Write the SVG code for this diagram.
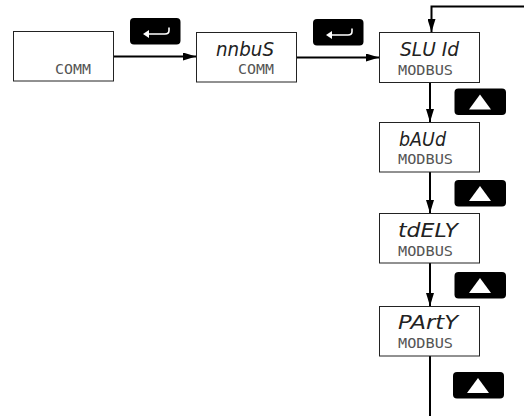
<svg xmlns="http://www.w3.org/2000/svg" width="524" height="416" viewBox="0 0 524 416">
<style>
.box{fill:#fff;stroke:#222;stroke-width:1}
.btn{fill:#000}
.sym{fill:#fff}
.ret{fill:none;stroke:#fff;stroke-width:1.6}
.big{font-family:"DejaVu Sans",sans-serif;font-weight:200;font-style:italic;font-size:20px;fill:#222}
.small{font-family:"DejaVu Sans Mono",monospace;font-weight:200;font-size:14px;fill:#555}
.con{fill:none;stroke:#000;stroke-width:2}
</style>
<defs>
<marker id="arr" markerUnits="userSpaceOnUse" markerWidth="13" markerHeight="8" refX="13" refY="4" orient="auto"><path d="M0 0L13 4L0 8z" fill="#000"/></marker>
</defs>
<g id="connectors">
<path class="con" marker-end="url(#arr)" d="M113 56.500H196"/>
<path class="con" marker-end="url(#arr)" d="M296 57.500H379"/>
<path class="con" marker-end="url(#arr)" d="M524 6.500H431.500V32"/>
<path class="con" marker-end="url(#arr)" d="M430 82V122"/>
<path class="con" marker-end="url(#arr)" d="M430 172V213"/>
<path class="con" marker-end="url(#arr)" d="M430 263V306"/>
<path class="con" d="M430 356V416"/>
</g>
<g id="node-comm"><rect class="box" x="13.500" y="31.500" width="100" height="49.500"/><text class="small" x="55" y="74" textLength="36" lengthAdjust="spacingAndGlyphs">COMM</text></g>
<g id="node-mbus"><rect class="box" x="196.500" y="32.500" width="100" height="49.500"/><text class="big" x="216" y="56" textLength="58" lengthAdjust="spacingAndGlyphs">nnbuS</text><text class="small" x="238" y="74" textLength="36" lengthAdjust="spacingAndGlyphs">COMM</text></g>
<g id="node-slvid"><rect class="box" x="379.500" y="32.500" width="100" height="50"/><text class="big" x="400" y="56" textLength="59" lengthAdjust="spacingAndGlyphs">SLU Id</text><text class="small" x="398" y="75" textLength="55" lengthAdjust="spacingAndGlyphs">MODBUS</text></g>
<g id="node-baud"><rect class="box" x="379.500" y="122.500" width="100" height="49.500"/><text class="big" x="399" y="146" textLength="47" lengthAdjust="spacingAndGlyphs">bAUd</text><text class="small" x="398" y="164" textLength="55" lengthAdjust="spacingAndGlyphs">MODBUS</text></g>
<g id="node-tdely"><rect class="box" x="379.500" y="213.500" width="100" height="49.500"/><text class="big" x="398" y="237" textLength="60" lengthAdjust="spacingAndGlyphs">tdELY</text><text class="small" x="398" y="255.500" textLength="55" lengthAdjust="spacingAndGlyphs">MODBUS</text></g>
<g id="node-party"><rect class="box" x="379.500" y="306.500" width="100" height="49.500"/><text class="big" x="398" y="329" textLength="60" lengthAdjust="spacingAndGlyphs">PArtY</text><text class="small" x="398" y="348" textLength="55" lengthAdjust="spacingAndGlyphs">MODBUS</text></g>
<g id="btn-enter-1"><rect class="btn" x="130" y="18" width="50.500" height="26.500" rx="4"/><path class="ret" d="M145 34H165Q169 34 169 30.500V27.500"/><path class="sym" d="M143 34L149 30V38z"/></g>
<g id="btn-enter-2"><rect class="btn" x="313" y="19" width="50.500" height="26.500" rx="4"/><path class="ret" d="M328 35H348Q352 35 352 31.500V28.500"/><path class="sym" d="M326 35L332 31V39z"/></g>
<g id="btn-up-1"><rect class="btn" x="454.500" y="88.500" width="51.500" height="26.500" rx="4"/><path class="sym" d="M480 94.500L491 109.500H469z"/></g>
<g id="btn-up-2"><rect class="btn" x="454.500" y="180" width="51.500" height="26.500" rx="4"/><path class="sym" d="M480 186L491 201H469z"/></g>
<g id="btn-up-3"><rect class="btn" x="454.500" y="272" width="51.500" height="26.500" rx="4"/><path class="sym" d="M480 278L491 293H469z"/></g>
<g id="btn-up-4"><rect class="btn" x="453" y="372" width="51" height="26.500" rx="4"/><path class="sym" d="M478 378L489 393H467z"/></g>
</svg>
